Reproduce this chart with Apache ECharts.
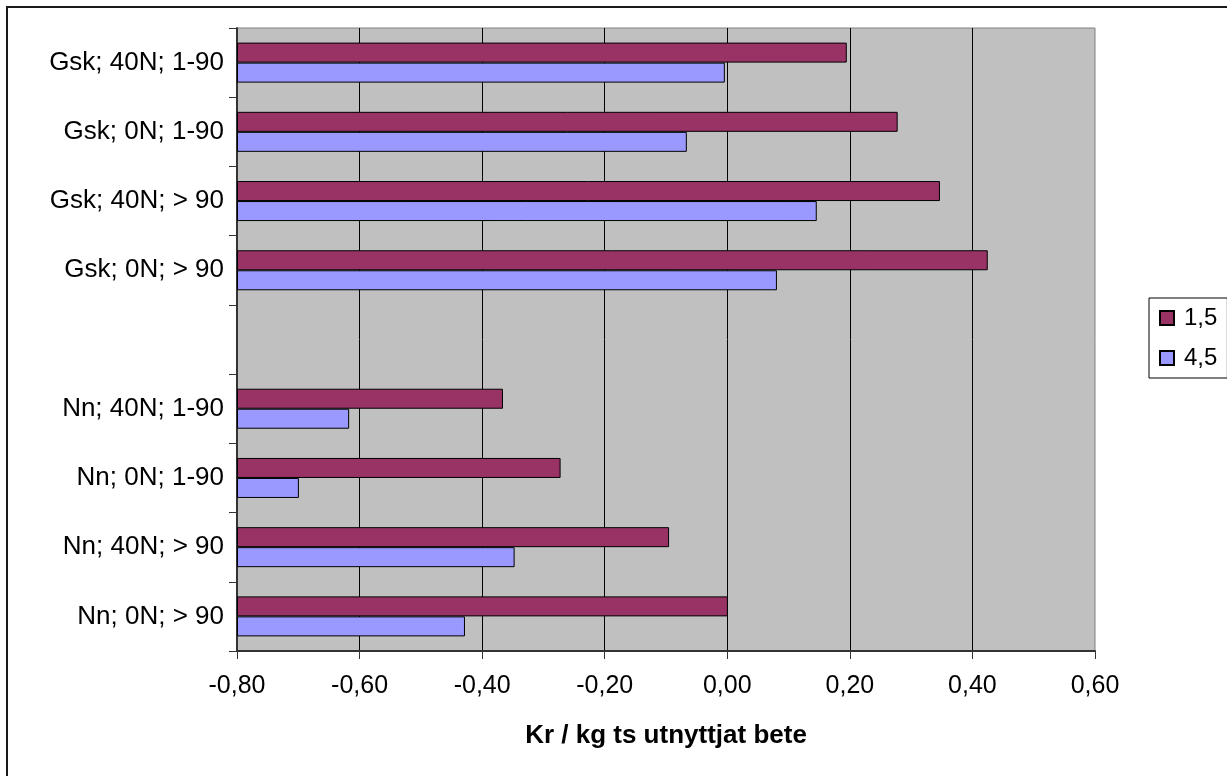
<!DOCTYPE html>
<html>
<head>
<meta charset="utf-8">
<script src="https://cdn.jsdelivr.net/npm/echarts@6/dist/echarts.min.js"></script>
<style>html,body{margin:0;padding:0;background:#fff}#c{width:1227px;height:776px}</style>
</head>
<body>
<div id="c"></div>
<script>
const categories = ['Gsk; 40N; 1-90', 'Gsk; 0N; 1-90', 'Gsk; 40N; > 90', 'Gsk; 0N; > 90', '',
  'Nn; 40N; 1-90', 'Nn; 0N; 1-90', 'Nn; 40N; > 90', 'Nn; 0N; > 90'];
const series15 = [0.195, 0.278, 0.347, 0.425, null, -0.366, -0.272, -0.095, 0.001];
const series45 = [-0.004, -0.066, 0.146, 0.081, null, -0.617, -0.699, -0.347, -0.428];
const seriesNames = ['1,5', '4,5'];
const xTicks = { min: -0.8, max: 0.6, interval: 0.2 };

const FONT = 'Liberation Sans';
const chart = echarts.init(document.getElementById('c'), null, { renderer: 'canvas' });
function fmt(v) { if (Math.abs(v) < 1e-9) v = 0; return v.toFixed(2).replace('.', ','); }

chart.setOption({
  backgroundColor: '#ffffff',
  animation: false,
  textStyle: { fontFamily: FONT, color: '#000' },
  graphic: [{
    type: 'rect', shape: { x: 7, y: 7, width: 1240, height: 800 },
    style: { fill: 'none', stroke: '#1a1a1a', lineWidth: 2 }, z: 100
  }],
  grid: {
    left: 237, top: 28, right: 132, bottom: 125,
    show: true, backgroundColor: '#c0c0c0', borderColor: '#808080', borderWidth: 1,
    containLabel: false, outerBoundsMode: 'none'
  },
  legend: {
    orient: 'vertical', left: 1149, top: 298,
    data: seriesNames,
    borderColor: '#000', borderWidth: 1, padding: [8, 10, 8, 10],
    itemWidth: 14, itemHeight: 14, itemGap: 16, icon: 'rect',
    textStyle: { fontFamily: FONT, fontSize: 24, color: '#000', padding: [0, 0, 0, 5] }
  },
  xAxis: {
    type: 'value', min: xTicks.min, max: xTicks.max, interval: xTicks.interval,
    startValue: xTicks.min,
    name: 'Kr / kg ts utnyttjat bete', nameLocation: 'middle', nameGap: 72,
    nameTextStyle: { fontFamily: FONT, fontSize: 26, fontWeight: 'bold', color: '#000' },
    axisLine: { show: true, onZero: false, lineStyle: { color: '#333', width: 2 } },
    axisTick: { show: true, length: 8, lineStyle: { color: '#333', width: 1 } },
    axisLabel: { formatter: fmt, fontFamily: FONT, fontSize: 25, color: '#000', margin: 23 },
    splitLine: { show: true, showMaxLine: false, lineStyle: { color: '#000', width: 1 } }
  },
  yAxis: {
    type: 'category', data: categories, inverse: true,
    axisLine: { show: true, onZero: false, lineStyle: { color: '#333', width: 2 } },
    axisTick: { show: true, length: 8, alignWithLabel: false, lineStyle: { color: '#333', width: 1 } },
    axisLabel: { fontFamily: FONT, fontSize: 26, color: '#000', margin: 13 },
    splitLine: { show: false }
  },
  series: [
    { name: seriesNames[0], type: 'bar', data: series15, barWidth: 20, barGap: '0%',
      itemStyle: { color: '#993366', borderColor: '#000', borderWidth: 1 } },
    { name: seriesNames[1], type: 'bar', data: series45, barWidth: 20, barGap: '0%',
      itemStyle: { color: '#9999ff', borderColor: '#000', borderWidth: 1 } }
  ]
});
</script>
</body>
</html>
